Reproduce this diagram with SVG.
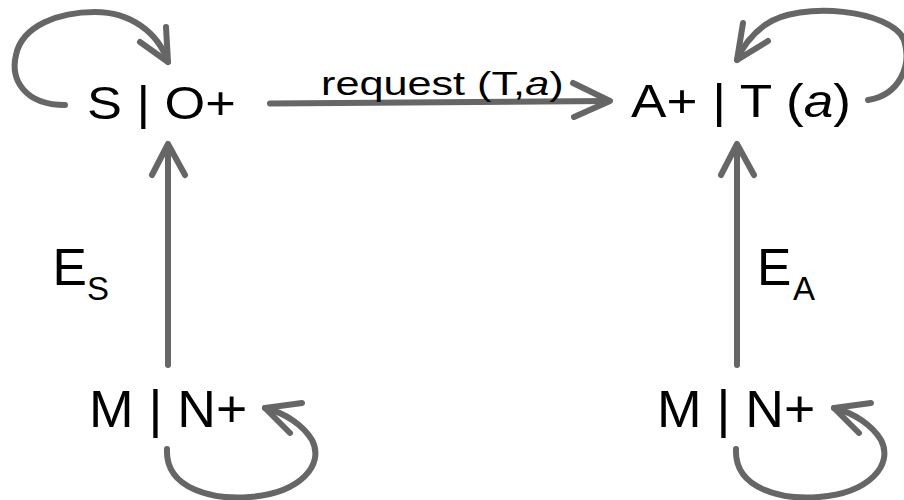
<svg xmlns="http://www.w3.org/2000/svg" width="904" height="500" viewBox="0 0 904 500">
<style>
.t{font-family:"Liberation Sans",Arial,sans-serif;fill:#000}
.c{fill:none;stroke:#666;stroke-width:6;stroke-linecap:round;stroke-linejoin:round}
</style>
<rect width="904" height="500" fill="#fff"/>
<g id="connectors">
<path class="c" d="M65,105 C25,105 10,80 16,55 C22,25 60,12 95,12 C130,12 158,32 168,62"/>
<path class="c" d="M140,42 L168,62 L166,27"/>
<path class="c" d="M868,100 C900,95 912,65 904,40 C892,10 800,0 765,25 C750,36 742,48 737,60"/>
<path class="c" d="M768,41 L737,60 L743,23"/>
<path class="c" d="M270,103.5 L608,101"/>
<path class="c" d="M573,83 L610,101 L574,117"/>
<path class="c" d="M168,365 L168,146"/>
<path class="c" d="M152,175 L168,144 L185,175"/>
<path class="c" d="M737,365 L737,146"/>
<path class="c" d="M721,175 L737,144 L754,175"/>
<path class="c" d="M167,449 C165,490 215,500 250,497 C300,493 325,465 312,440 C303,425 285,413 265,408"/>
<path class="c" d="M302,403 L265,408 L290,433"/>
<path class="c" d="M736,449 C734,490 784,500 819,497 C869,493 894,465 881,440 C872,425 854,413 834,408"/>
<path class="c" d="M871,403 L834,408 L859,433"/>
</g>
<g id="S_O">
<text class="t" transform="translate(87,119) scale(1.114,1)" font-size="47">S | O+</text>
</g>
<g id="A_T">
<text class="t" transform="translate(631,117) scale(1.13,1)" font-size="47">A+ | T (<tspan font-style="italic">a</tspan>)</text>
</g>
<g id="request_label">
<text class="t" transform="translate(321,95) scale(1.31,1)" font-size="33">request (T,<tspan font-style="italic">a</tspan>)</text>
</g>
<g id="M_N_left">
<text class="t" transform="translate(89,427) scale(1.03,1)" font-size="52">M | N+</text>
</g>
<g id="M_N_right">
<text class="t" transform="translate(657,427) scale(1.03,1)" font-size="52">M | N+</text>
</g>
<g id="ES_label">
<text class="t" x="52.5" y="285" font-size="51.5">E</text>
<text class="t" x="87" y="299.5" font-size="33">S</text>
</g>
<g id="EA_label">
<text class="t" x="757" y="285" font-size="51.5">E</text>
<text class="t" x="793" y="299.5" font-size="33">A</text>
</g>
</svg>
